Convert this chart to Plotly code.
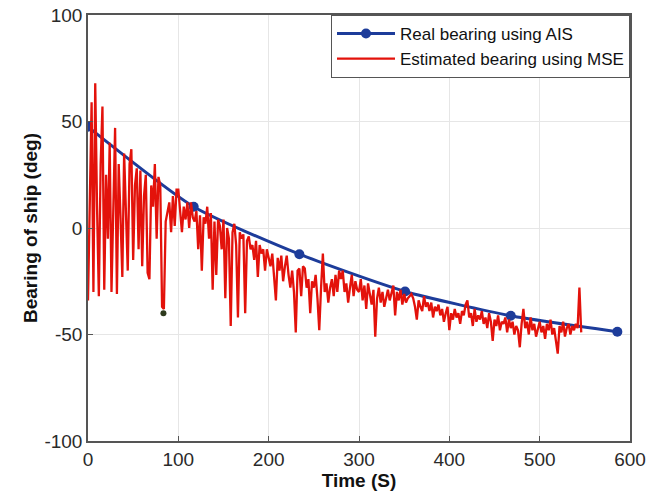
import plotly.graph_objects as go

# Real bearing (AIS) samples
ais_t = [0, 117, 234, 351, 468, 586]
ais_deg = [47.5, 10, -12.3, -29.8, -41.2, -48.7]

# Estimated bearing (MSE), one sample every 2 s from 0 to 546 s
mse_t = list(range(0, 548, 2))
mse_deg = [
    -34, 20, 59, -30, 68, 10, -32, 30, 57, -29,
    25, -5, 40, -30, 15, 47, -31, 30, 5, -23,
    35, 10, -20, 30, 37, -15, 20, 28, -10, 27,
    -18, 15, 25, -21, -24, 20, 10, 30, -5, 24,
    20, -37, -38, 3, 7, 12, -2, 15, 1, 18,
    18, 6, -2, 10, 4, 12, 0, 12, 5, 3,
    8, -10, 6, -20, 5, 2, 10, -5, 7, -29,
    3, -22, 4, 1, -10, 4, -33, 0, -5, -46,
    -2, 2, -8, -42, -2, -5, -3, -40, -6, -4,
    -10, -8, -15, -6, -23, -8, -12, -10, -20, -10,
    -15, -18, -12, -25, -34, -14, -20, -13, -25, -18,
    -13, -22, -28, -20, -30, -49, -20, -19, -32, -18,
    -19, -28, -24, -40, -25, -28, -22, -33, -48, -28,
    -12, -30, -26, -35, -28, -24, -32, -22, -30, -20,
    -24, -20, -30, -26, -35, -28, -22, -32, -25, -29,
    -30, -24, -34, -27, -38, -26, -31, -36, -29, -51,
    -33, -28, -35, -30, -37, -32, -29, -34, -31, -27,
    -41, -30, -34, -29, -36, -31, -35, -33, -32, -31,
    -33, -37, -43, -34, -37, -39, -32, -37, -35, -39,
    -35, -42, -37, -39, -36, -41, -38, -44, -40, -37,
    -48, -40, -43, -38, -42, -40, -45, -39, -41, -36,
    -34, -42, -40, -46, -38, -44, -41, -43, -39, -45,
    -42, -47, -40, -44, -53, -43, -46, -41, -48, -44,
    -45, -42, -49, -43, -47, -44, -50, -46, -48, -56,
    -45, -38, -47, -44, -50, -42, -48, -45, -51, -47,
    -44, -49, -46, -52, -45, -48, -43, -50, -47, -53,
    -59, -46, -49, -44, -51, -47, -45, -50, -46, -48,
    -45, -47, -28, -49,
]

# isolated dark point
dot_t = [83.5]
dot_deg = [-40]

x_ticks = [0, 100, 200, 300, 400, 500, 600]
x_labels = ["0", "100", "200", "300", "400", "500", "600"]
y_ticks = [-100, -50, 0, 50, 100]
y_labels = ["-100", "-50", "0", "50", "100"]

FONT = "Liberation Sans, Arial, sans-serif"

fig = go.Figure()
fig.add_trace(go.Scatter(
    x=ais_t, y=ais_deg, mode="lines+markers", name="Real bearing using AIS",
    line=dict(color="#1d3c9a", width=3, shape="spline", smoothing=0.6),
    marker=dict(color="#1d3c9a", size=10),
))
fig.add_trace(go.Scatter(
    x=mse_t, y=mse_deg, mode="lines", name="Estimated bearing using MSE",
    line=dict(color="#e3120b", width=2.3),
))
fig.add_trace(go.Scatter(
    x=dot_t, y=dot_deg, mode="markers", showlegend=False,
    marker=dict(color="#2e3a1e", size=6),
))

axis_common = dict(
    showline=True, mirror=True, linecolor="#555555", linewidth=1.5,
    ticks="inside", ticklen=5, tickcolor="#555555",
    showgrid=True, gridcolor="#e6e6e6", gridwidth=1, zeroline=False,
    tickfont=dict(family=FONT, size=19, color="#2a2a2a"),
    automargin=False,
)

fig.update_layout(
    width=647, height=497, autosize=False,
    margin=dict(l=88, r=17, t=15, b=56),
    paper_bgcolor="white", plot_bgcolor="white",
    xaxis=dict(range=[0, 600], tickvals=x_ticks, ticktext=x_labels,
               title=dict(text="<b>Time (S)</b>", standoff=2,
                          font=dict(family=FONT, size=19, color="#111111")),
               **axis_common),
    yaxis=dict(range=[-100, 100], tickvals=y_ticks, ticktext=y_labels,
               title=dict(text="<b>Bearing of ship (deg)</b>", standoff=2,
                          font=dict(family=FONT, size=19, color="#111111")),
               **axis_common),
    legend=dict(x=1, xanchor="right", y=1, yanchor="top",
                bgcolor="white", bordercolor="#555555", borderwidth=1,
                font=dict(family=FONT, size=17, color="#111111"),
                itemwidth=58, tracegroupgap=0),
    showlegend=True,
)

fig.write_html("out.html")
